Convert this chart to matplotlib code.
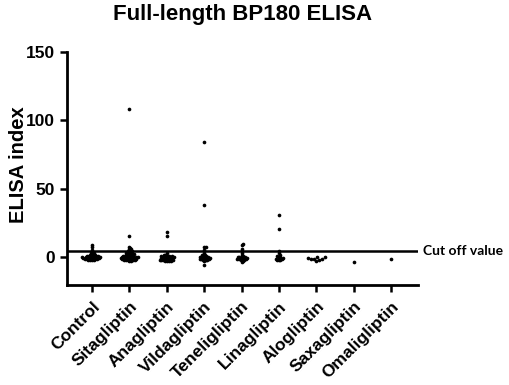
import numpy as np
import matplotlib
matplotlib.use("Agg")
import matplotlib.pyplot as plt

plt.rcParams['font.family'] = 'Liberation Sans'
plt.rcParams['font.weight'] = 'bold'

groups = ['Control', 'Sitagliptin', 'Anagliptin', 'Vildagliptin', 'Teneligliptin',
          'Linagliptin', 'Alogliptin', 'Saxagliptin', 'Omaligliptin']

control = [9.0, 7.5, 5.5, 4.0, 3.5, 3.0, 2.5, 2.0, 2.0, 1.5, 1.5, 1.2, 1.0, 1.0, 0.8,
           0.5, 0.5, 0.3, 0.2, 0.0, 0.0, 0.0, -0.2, -0.3, -0.5, -0.5, -0.6, -0.8, -1.0,
           -1.0, -1.2, -1.3, -1.5, -1.5, -1.8, -2.0]
sitagliptin = [108.5, 16.0, 8.0, 7.0, 6.5, 6.0, 5.5, 5.0, 5.0, 4.5, 4.0, 3.5, 3.5, 3.0,
               3.0, 2.5, 2.5, 2.0, 2.0, 1.5, 1.5, 1.2, 1.0, 1.0, 0.8, 0.5, 0.5, 0.3, 0.2,
               0.0, 0.0, 0.0, -0.2, -0.3, -0.5, -0.5, -0.7, -0.8, -1.0, -1.0, -1.2, -1.3,
               -1.5, -1.5, -1.7, -2.0, -2.0, -2.3, -2.5]
anagliptin = [18.5, 15.5, 3.0, 2.0, 1.5, 1.2, 1.0, 1.0, 0.8, 0.5, 0.5, 0.2, 0.0, 0.0,
              -0.2, -0.5, -0.5, -0.8, -1.0, -1.0, -1.2, -1.5, -1.5, -1.8, -2.0, -2.0,
              -2.2, -2.5, -2.5, -2.8]
vildagliptin = [84.0, 38.0, 8.0, 8.0, 5.5, 3.0, 2.0, 1.5, 1.0, 1.0, 0.5, 0.2, 0.0, 0.0,
                -0.3, -0.5, -0.5, -0.8, -1.0, -1.0, -1.3, -1.5, -1.5, -2.0, -2.5, -5.5]
teneligliptin = [9.5, 9.0, 6.5, 4.5, 3.0, 1.5, 1.0, 0.5, 0.2, 0.0, 0.0, -0.3, -0.5, -0.8,
                 -1.0, -1.0, -1.3, -1.5, -1.5, -2.0, -2.5, -3.0]
linagliptin = [31.0, 20.5, 5.0, 3.5, 1.5, 1.0, 0.5, 0.0, -0.5, -0.8, -1.0, -1.0, -1.5,
               -1.5, -2.0]
alogliptin = [0.5, 0.0, -0.5, -1.0, -1.0, -1.2, -1.5, -2.5]
saxagliptin = [-3.0]
omaligliptin = [-1.0]

values = [control, sitagliptin, anagliptin, vildagliptin, teneligliptin,
          linagliptin, alogliptin, saxagliptin, omaligliptin]
cutoff = 4.64

fig = plt.figure(figsize=(5.1, 3.85), dpi=100)
ax = fig.add_axes([0.131, 0.26, 0.689, 0.605])
ax.set_xlim(-0.67, 8.72)
ax.set_ylim(-20, 150)

# pixel scales used to lay out the swarm
px_x = 0.689 * 510 / (8.72 + 0.67)
px_y = 0.605 * 385 / 170.0
dmin = 1.6


def swarm(vals, d):
    vals = np.sort(np.asarray(vals, dtype=float))
    placed = []
    offs = []
    for v in vals:
        yp = v * px_y
        cands = [0.0]
        for k in range(1, 60):
            cands += [k * 0.5, -k * 0.5]
        for c in cands:
            ok = True
            for (xq, yq) in placed:
                if (c - xq) ** 2 + (yp - yq) ** 2 < d ** 2:
                    ok = False
                    break
            if ok:
                break
        placed.append((c, yp))
        offs.append(c / px_x)
    return np.array(offs), vals


for i, vals in enumerate(values):
    # small groups are spread a little wider, as in the original
    d = dmin if len(vals) > 10 else 3.0
    dx, vs = swarm(vals, d)
    ax.scatter(i + dx, vs, s=7, color='black', linewidths=0, zorder=3)

ax.axhline(cutoff, color='black', lw=1.8, zorder=2)
ax.text(8.85, cutoff, 'Cut off value', fontsize=10, fontweight='bold',
        family='Lato', va='center', ha='left', clip_on=False)

ax.set_title('Full-length BP180 ELISA', fontsize=16, fontweight='bold', pad=23)
ax.set_ylabel('ELISA index', fontsize=14.5, fontweight='bold')
ax.yaxis.set_label_coords(-0.11, 0.515)
ax.set_yticks([0, 50, 100, 150])
ax.set_xticks(range(len(groups)))
ax.set_xticklabels(groups, rotation=45, ha='right', rotation_mode='anchor', fontsize=12.5)
ax.tick_params(axis='y', labelsize=12.5, width=1.8, length=5)
ax.tick_params(axis='x', width=1.8, length=5, pad=5)
for s in ['top', 'right']:
    ax.spines[s].set_visible(False)
for s in ['left', 'bottom']:
    ax.spines[s].set_linewidth(2)

fig.savefig('out.png', dpi=100)
